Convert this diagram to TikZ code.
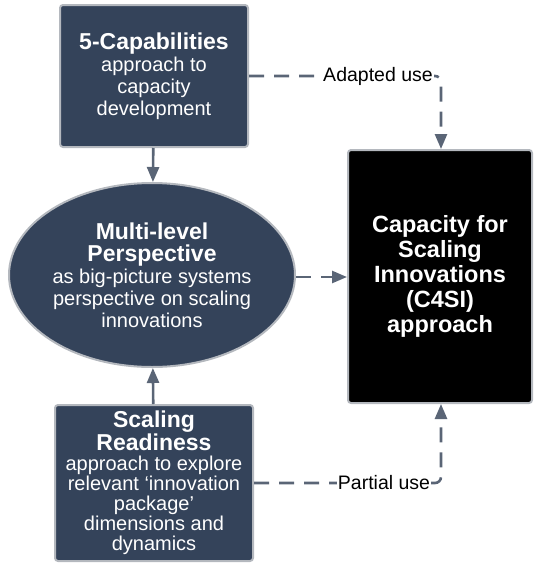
\documentclass[tikz,border=0pt]{standalone}
\usepackage{fontspec}
\setmainfont{Liberation Sans}
\usetikzlibrary{arrows.meta,shapes.geometric}
\definecolor{boxfill}{HTML}{34435A}
\definecolor{boxedge}{HTML}{B4B8BE}
\definecolor{conncol}{HTML}{5A6576}
\tikzset{
  bluebox/.style={draw=boxedge, line width=2pt, fill=boxfill, rounded corners=3pt,
    text=white, align=center, inner sep=0pt},
  blackbox/.style={draw=boxedge, line width=2pt, fill=black, rounded corners=3pt,
    text=white, align=center, inner sep=0pt},
  ellnode/.style={ellipse, draw=boxedge, line width=2pt, fill=boxfill, text=white,
    align=center, inner sep=0pt},
  conn/.style={draw=conncol, line width=2.6pt, -{Triangle[width=12pt,length=15pt]}},
  dconn/.style={conn, dash pattern=on 15pt off 10pt, rounded corners=6pt},
  lbl/.style={fill=white, inner sep=1pt, text=black, font=\fontsize{19.5}{20}\selectfont},
  regf/.style={font=\fontsize{20}{22}\selectfont},
}
\newcommand{\bt}[1]{{\fontsize{23}{26}\selectfont\bfseries #1}}
\begin{document}
\begin{tikzpicture}[x=1pt,y=-1pt]
\useasboundingbox (0,0) rectangle (535,563);
% nodes
\node[bluebox, regf, minimum width=188pt, minimum height=142pt] (cap) at (154,76)
  {\bt{5-Capabilities}\\approach to\\capacity\\development};
\node[ellnode, regf, minimum width=286pt, minimum height=184pt] (mlp) at (152,275)
  {\bt{Multi-level}\\\bt{Perspective}\\as big-picture systems\\perspective on scaling\\innovations};
\node[bluebox, font=\fontsize{20}{20}\selectfont, minimum width=198pt, minimum height=156pt] (sr) at (154,483)
  {{\fontsize{23}{23}\selectfont\bfseries Scaling}\\{\fontsize{23}{23}\selectfont\bfseries Readiness}\\approach to explore\\relevant `innovation\\package'\\dimensions and\\dynamics};
\node[blackbox, font=\fontsize{23.5}{25}\selectfont\bfseries, minimum width=184pt, minimum height=253pt] (c4si) at (440,276.5)
  {Capacity for\\Scaling\\Innovations\\(C4SI)\\approach};
% corner coordinates
\coordinate (ac) at (441,76);
\coordinate (pc) at (441,483);
% connectors
\draw[conn] (cap) -- (mlp);
\draw[conn] (sr) -- (mlp);
\draw[dconn] (mlp.east |- 0,277) -- (c4si.west |- 0,277);
\draw[dconn] (cap.east) -- (ac) -- (ac |- c4si.north);
\draw[dconn] (sr.east) -- (pc) -- (pc |- c4si.south);
% labels
\node[lbl] (al) at (378,76) {Adapted use};
\node[lbl] (pl) at (384,483) {Partial use};
\end{tikzpicture}
\end{document}
